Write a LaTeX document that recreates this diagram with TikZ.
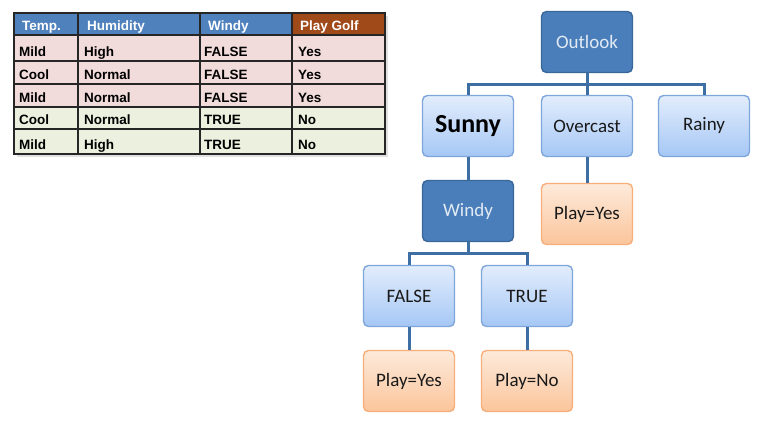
\documentclass[tikz,border=0pt]{standalone}
\usepackage{fontspec}
\setmainfont{Carlito}
\newfontfamily\tablefont{Liberation Sans}
\usetikzlibrary{positioning}
\definecolor{hdrblue}{HTML}{4F81BD}
\definecolor{hdrbrown}{HTML}{A04A19}
\definecolor{rowpink}{HTML}{F2DCDB}
\definecolor{rowgreen}{HTML}{EBF1DE}
\definecolor{darkfill}{HTML}{4A7EBB}
\definecolor{darkline}{HTML}{3A679A}
\definecolor{darktext}{HTML}{E2EAF4}
\definecolor{lighttop}{HTML}{E2EDFC}
\definecolor{lightbot}{HTML}{A6C7F5}
\definecolor{lightline}{HTML}{7EA6DA}
\definecolor{leaftop}{HTML}{FDEADB}
\definecolor{leafbot}{HTML}{FBC59B}
\definecolor{leafline}{HTML}{F7AE7A}
\definecolor{linkblue}{HTML}{3D6FA5}
\tikzstyle{decision} = [rectangle, draw=darkline, line width=1.4pt, fill=darkfill,
    text=darktext, minimum width=91pt, minimum height=61pt, rounded corners=5pt,
    font=\fontsize{19}{22}\selectfont]
\tikzstyle{branch} = [rectangle, draw=lightline, line width=1.4pt, top color=lighttop,
    bottom color=lightbot, text=black!90, minimum width=91pt, minimum height=61pt,
    rounded corners=5pt, font=\fontsize{19}{22}\selectfont]
\tikzstyle{leaf} = [rectangle, draw=leafline, line width=1.4pt, top color=leaftop,
    bottom color=leafbot, text=black!90, minimum width=91pt, minimum height=61pt,
    rounded corners=5pt, font=\fontsize{19}{22}\selectfont]
\tikzstyle{link} = [draw=linkblue, line width=3pt]
\tikzstyle{cell} = [anchor=base west, inner sep=0pt,
    font=\tablefont\bfseries\fontsize{13.5}{15}\selectfont]
\begin{document}
\begin{tikzpicture}[x=1pt, y=1pt]
  \useasboundingbox (0,0) rectangle (772,428);
  % Table
  \fill [black!12] (17,271) rectangle (388,412);
  \fill [hdrblue] (14,393) rectangle (292,415);
  \fill [hdrbrown] (292,393) rectangle (385,415);
  \fill [rowpink] (14,321) rectangle (385,393);
  \fill [rowgreen] (14,274) rectangle (385,321);
  \foreach \y in {393,367,344,321,299}
    \draw [black!85, line width=1.4pt] (14,\y) -- (385,\y);
  \foreach \x in {78,200,292}
    \draw [black!85, line width=1.4pt] (\x,274) -- (\x,415);
  \draw [black!85, line width=2.2pt] (14,274) rectangle (385,415);
  \node [cell, text=white] (hTemp) at (22,397.5) {Temp.};
  \node [cell, text=white] (hHum) at (87,397.5) {Humidity};
  \node [cell, text=white] (hWindy) at (208,397.5) {Windy};
  \node [cell, text=white] (hPlay) at (300,397.5) {Play Golf};
  \foreach \n/\y/\a/\b/\c/\d in {1/371.5/Mild/High/FALSE/Yes,
      2/348.5/Cool/Normal/FALSE/Yes, 3/325.5/Mild/Normal/FALSE/Yes,
      4/303.5/Cool/Normal/TRUE/No, 5/278.5/Mild/High/TRUE/No} {
    \node [cell] (temp\n) at (19,\y) {\a};
    \node [cell] (hum\n) at (84,\y) {\b};
    \node [cell] (windy\n) at (204,\y) {\c};
    \node [cell] (play\n) at (298,\y) {\d};
  }
  % Place nodes
  \node [decision] (outlook) at (587,386) {Outlook};
  \node [branch, below of=outlook, node distance=84pt] (overcast) {Overcast};
  \node [branch, left of=overcast, node distance=119pt] (sunny)
  {\fontsize{26}{30}\selectfont\bfseries\color{black}Sunny};
  \node [branch, right of=overcast, node distance=117pt] (rainy) {Rainy};
  \node [decision, below of=sunny, node distance=85pt] (windy) {Windy};
  \node [leaf, below of=overcast, node distance=88pt] (yesO) {Play=Yes};
  \node [branch, below of=windy, node distance=85pt, xshift=-59pt] (false) {FALSE};
  \node [branch, below of=windy, node distance=85pt, xshift=59pt] (true) {TRUE};
  \node [leaf, below of=false, node distance=85pt] (yesF) {Play=Yes};
  \node [leaf, below of=true, node distance=85pt] (noT) {Play=No};
  % Draw edges
  \draw [link] (outlook.south) -- ++(0,-11pt) -| (sunny.north);
  \draw [link] (outlook.south) -- ++(0,-11pt) -| (rainy.north);
  \draw [link] (outlook.south) -- (overcast.north);
  \draw [link] (overcast) -- (yesO);
  \draw [link] (sunny) -- (windy);
  \draw [link] (windy.south) -- ++(0,-11pt) -| (false.north);
  \draw [link] (windy.south) -- ++(0,-11pt) -| (true.north);
  \draw [link] (false) -- (yesF);
  \draw [link] (true) -- (noT);
\end{tikzpicture}
\end{document}
